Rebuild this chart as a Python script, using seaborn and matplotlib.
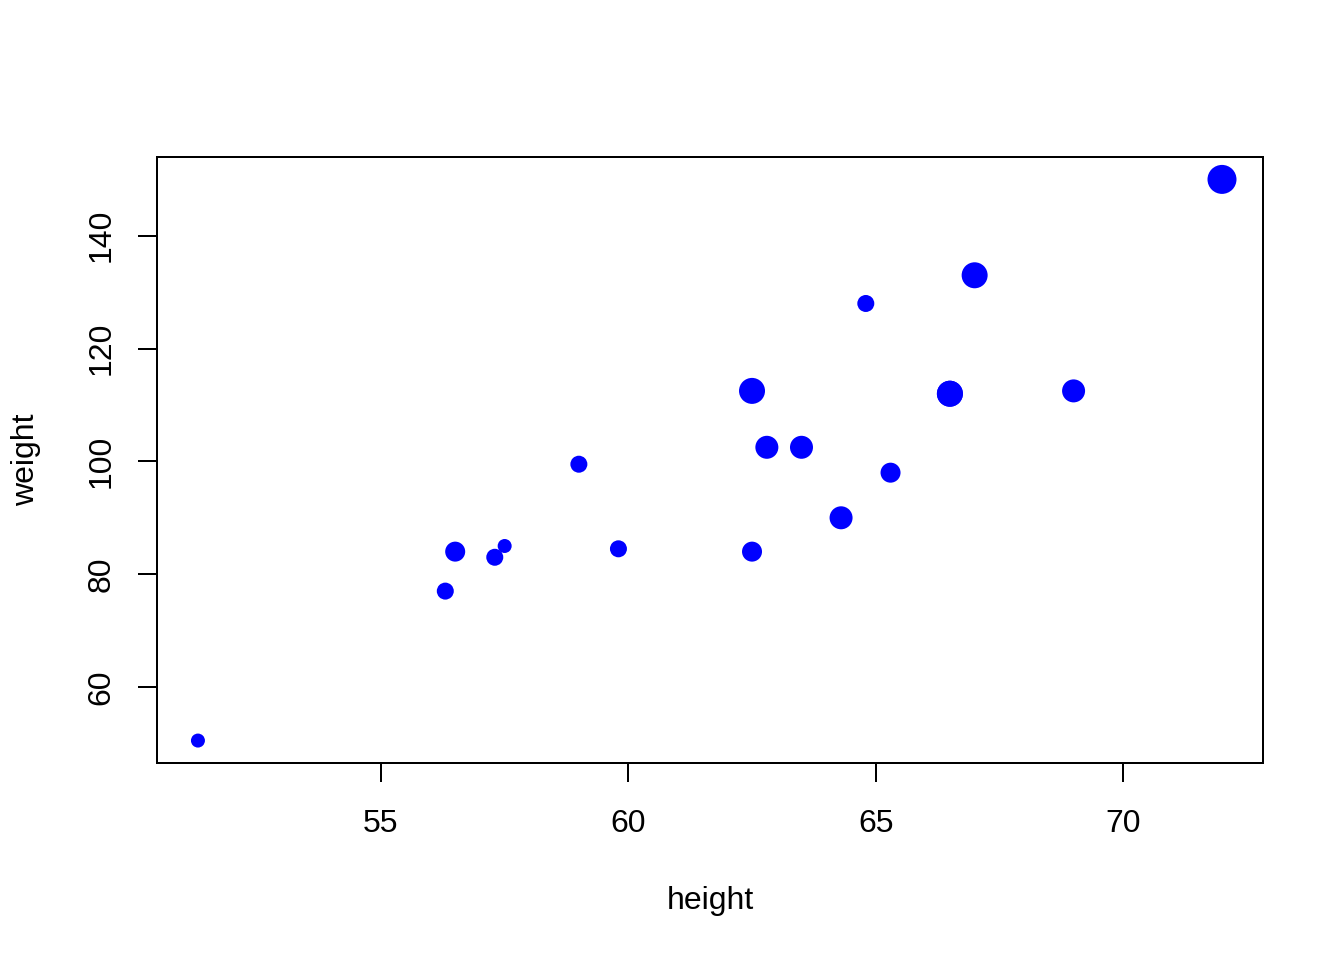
import pandas as pd
import matplotlib.pyplot as plt
import seaborn as sns

# SAS "class" data: height, weight and age of 19 students
height = [69.0, 56.5, 65.3, 62.8, 63.5, 57.3, 59.8, 62.5, 62.5, 59.0,
          51.3, 64.3, 56.3, 66.5, 72.0, 64.8, 67.0, 57.5, 66.5]
weight = [112.5, 84.0, 98.0, 102.5, 102.5, 83.0, 84.5, 112.5, 84.0, 99.5,
          50.5, 90.0, 77.0, 112.0, 150.0, 128.0, 133.0, 85.0, 112.0]
age = [14, 13, 13, 14, 14, 12, 12, 15, 13, 12,
       11, 14, 12, 15, 16, 12, 15, 11, 15]

df = pd.DataFrame({"height": height, "weight": weight, "age": age})

sns.set_style("white")
plt.rcParams["font.family"] = ["Liberation Sans", "DejaVu Sans"]
plt.rcParams["font.size"] = 12

fig = plt.figure(figsize=(7, 5), dpi=192)
ax = fig.add_axes([0.1168, 0.2052, 0.8229, 0.6313])

# marker diameter grows with age (px at 192 dpi -> points^2)
sizes = {a: ((3 * a - 19) * 72 / 192) ** 2 for a in sorted(set(age))}
sns.scatterplot(data=df, x="height", y="weight", size="age", sizes=sizes,
                color="blue", linewidth=0, legend=False, ax=ax)

ax.set_xlim(50.472, 72.828)
ax.set_ylim(46.52, 153.98)
ax.set_xticks([55, 60, 65, 70])
ax.set_yticks([60, 80, 100, 120, 140])
ax.tick_params(axis="both", direction="out", length=7.2, width=0.75,
               color="black", labelsize=12, labelcolor="black",
               bottom=True, left=True)
ax.tick_params(axis="x", pad=10)
ax.tick_params(axis="y", pad=8, labelrotation=90)
for lbl in ax.get_yticklabels():
    lbl.set_va("center")
for s in ax.spines.values():
    s.set_visible(True)
    s.set_color("black")
    s.set_linewidth(0.75)

ax.set_xlabel("height", fontsize=12, color="black", va="center")
ax.set_ylabel("weight", fontsize=12, color="black", va="center")
ax.xaxis.set_label_coords(0.5, (763 - 901) / 606)
ax.yaxis.set_label_coords((26 - 157) / 1106, 0.5)

fig.savefig("out.png", dpi=192)
